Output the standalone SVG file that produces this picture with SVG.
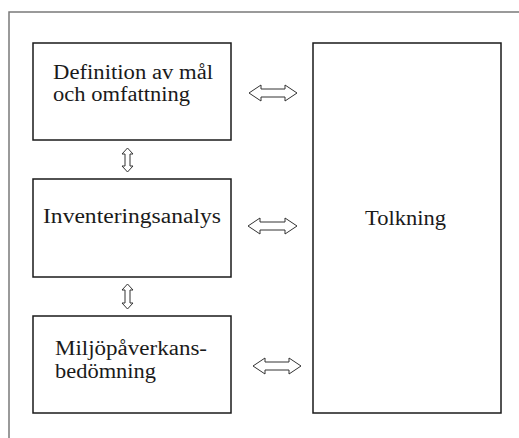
<svg xmlns="http://www.w3.org/2000/svg" width="519" height="438" viewBox="0 0 519 438">
<style>
.box{fill:#fff;stroke:#1a1a1a;stroke-width:1.5}
.frame{fill:none;stroke:#7a7a7a;stroke-width:1.5}
.arr{fill:#fff;stroke:#333;stroke-width:1}
.t{font-family:'Liberation Serif','DejaVu Serif','Times New Roman',serif;font-size:20px;fill:#1a1a1a}
</style>
<rect width="519" height="438" fill="#fff"/>
<path class="frame" d="M9,438 V12 H519"/>
<g id="node-definition">
<rect class="box" x="33" y="43" width="198" height="97"/>
<text class="t" x="53" y="79" textLength="160" lengthAdjust="spacingAndGlyphs">Definition av mål</text>
<text class="t" x="53" y="101" textLength="137" lengthAdjust="spacingAndGlyphs">och omfattning</text>
</g>
<g id="node-inventering">
<rect class="box" x="33" y="179" width="198" height="98"/>
<text class="t" x="43" y="223" textLength="178" lengthAdjust="spacingAndGlyphs">Inventeringsanalys</text>
</g>
<g id="node-miljo">
<rect class="box" x="33" y="316" width="198" height="97"/>
<text class="t" x="55" y="355" textLength="152" lengthAdjust="spacingAndGlyphs">Miljöpåverkans-</text>
<text class="t" x="55" y="378" textLength="101" lengthAdjust="spacingAndGlyphs">bedömning</text>
</g>
<g id="node-tolkning">
<rect class="box" x="313" y="43" width="188" height="370"/>
<text class="t" x="365" y="225" textLength="81" lengthAdjust="spacingAndGlyphs">Tolkning</text>
</g>
<g id="connectors">
<path class="arr" d="M249,93 L261,85 V89 H285 V85 L297,93 L285,101 V97 H261 V101 Z"/>
<path class="arr" d="M248,226 L260,218 V222 H285 V218 L297,226 L285,234 V230 H260 V234 Z"/>
<path class="arr" d="M253,366 L265,358 V362 H289 V358 L301,366 L289,374 V370 H265 V374 Z"/>
<path class="arr" d="M127.5,148 L133,154 H130 V166 H133 L127.5,172 L122,166 H125 V154 H122 Z"/>
<path class="arr" d="M127.5,284 L133,290 H130 V303 H133 L127.5,309 L122,303 H125 V290 H122 Z"/>
</g>
</svg>
